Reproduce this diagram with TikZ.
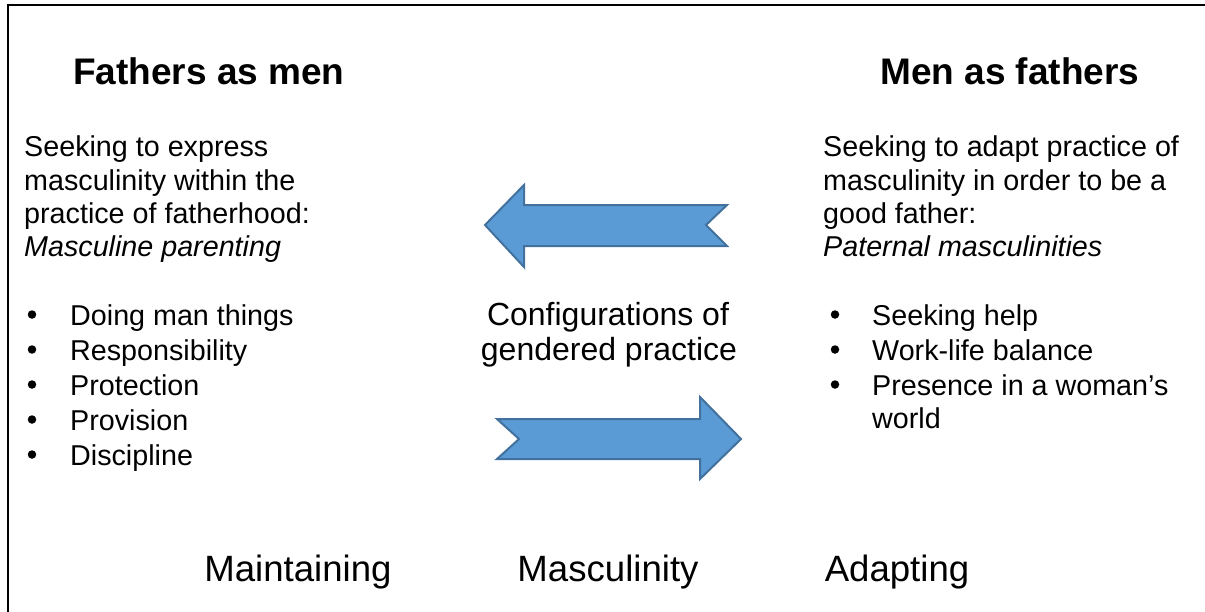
\documentclass[tikz,border=0pt]{standalone}
\usepackage{fontspec}
\setmainfont{Liberation Sans}
\definecolor{arrfill}{RGB}{91,155,213}
\definecolor{arrline}{RGB}{65,113,156}
\begin{document}
\begin{tikzpicture}[x=1pt,y=-1pt,
  title/.style={font=\fontsize{37}{44}\selectfont\bfseries, anchor=base west, inner sep=0},
  body/.style={font=\fontsize{28.7}{33}\selectfont, anchor=base west, inner sep=0},
  bul/.style={circle, fill=black, inner sep=0, minimum size=8.5},
  mid/.style={font=\fontsize{32}{37}\selectfont, anchor=base, inner sep=0},
  bottom/.style={font=\fontsize{36.6}{42}\selectfont, anchor=base, inner sep=0},
  blockarrow/.style={fill=arrfill, draw=arrline, line width=2, line join=miter}]
\useasboundingbox (0,0) rectangle (1205,611);
\draw[line width=2] (8,615) -- (8,5) -- (1210,5);

% titles
\node[title] (tl) at (73,84.5) {Fathers as men};
\node[title] (tr) at (880,84.5) {Men as fathers};

% left paragraph
\node[body] (l1) at (24,156.5) {Seeking to express};
\node[body] (l2) at (24,190) {masculinity within the};
\node[body] (l3) at (24,223.3) {practice of fatherhood:};
\node[body] (l4) at (24,256.7) {\itshape Masculine parenting};

% left bullets
\foreach \t/\y [count=\i] in {Doing man things/325, Responsibility/360, Protection/395, Provision/430, Discipline/465}{
  \node[bul] (lb\i) at (32,\y-10.5) {};
  \node[body] (lt\i) at (70,\y) {\t};
}

% right paragraph
\node[body] (r1) at (823,156.5) {Seeking to adapt practice of};
\node[body] (r2) at (823,190) {masculinity in order to be a};
\node[body] (r3) at (823,223.3) {good father:};
\node[body] (r4) at (823,256.7) {\itshape Paternal masculinities};

% right bullets
\node[bul] (rb1) at (835,314.5) {};
\node[body] (rt1) at (872,325) {Seeking help};
\node[bul] (rb2) at (835,349.5) {};
\node[body] (rt2) at (872,360) {Work-life balance};
\node[bul] (rb3) at (835,384.5) {};
\node[body] (rt3) at (872,395) {Presence in a woman’s};
\node[body] (rt4) at (872,428) {world};

% middle
\node[mid] (m1) at (608,325) {Configurations of};
\node[mid] (m2) at (609,360) {gendered practice};

% arrows
\draw[blockarrow] (485,225) -- (524,185) -- (524,205) -- (727,205) -- (706,225)
  -- (727,246) -- (524,246) -- (524,267) -- cycle;
\draw[blockarrow] (741,439) -- (700,397) -- (700,419) -- (497,419) -- (519,439)
  -- (497,459) -- (700,459) -- (700,479) -- cycle;

% bottom
\node[bottom] (b1) at (298,581) {Maintaining};
\node[bottom] (b2) at (608,581) {Masculinity};
\node[bottom] (b3) at (897,581) {Adapting};
\end{tikzpicture}
\end{document}
